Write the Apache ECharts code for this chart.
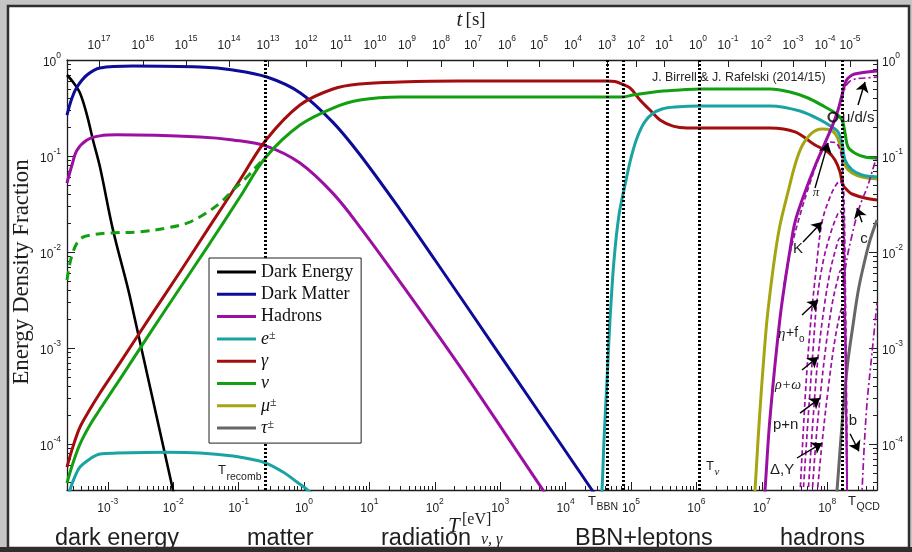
<!DOCTYPE html>
<html>
<head>
<meta charset="utf-8">
<title>Energy density fractions of the Universe</title>
<script src="https://cdn.jsdelivr.net/npm/echarts@6.0.0/dist/echarts.min.js"></script>
<style>
  html, body { margin: 0; padding: 0; background: #c5c5c5; }
  #chart { width: 912px; height: 552px; }
</style>
</head>
<body>
<div id="chart"></div>
<script>
// Energy density fraction of each component versus photon/neutrino temperature T [eV].

const tempRange = [2.38e-4, 5.77e8];
const fractionRange = [3.32e-5, 1];

const tempTicks = [1e-3, 1e-2, 1e-1, 1, 10, 100, 1e3, 1e4, 1e5, 1e6, 1e7, 1e8];
const fractionTicks = [1e-4, 1e-3, 1e-2, 1e-1, 1];

// cosmic time t [s]: exponent of each top tick and the temperature it sits at
const timeExponents = [17, 16, 15, 14, 13, 12, 11, 10, 9, 8, 7, 6, 5, 4, 3, 2, 1, 0, -1, -2, -3, -4, -5];
const timeAtTemp = [7.33e-4, 3.45e-3, 0.0157, 0.0713, 0.2815, 1.073, 3.68, 12.18, 37.6, 124.4, 383.7,
  1271, 3920, 1.298e4, 4.296e4, 1.193e5, 3.196e5, 1.058e6, 3.042e6, 9.72e6, 3.0e7, 9.26e7, 2.232e8];

// characteristic temperatures (dotted guides)
const tRecomb = 0.262;
const tBBN = [4.3e4, 7.5e4];
const tNuFreeze = 1.1e6;
const tQCD = 1.68e8;

const darkEnergy = [[2.377e-4,0.698],[2.937e-4,0.590],[3.757e-4,0.453],[4.808e-4,0.267],[5.937e-4,0.147],
  [7.6e-4,0.0768],[1.201e-3,0.017],[2.184e-3,3.4e-3],[9.93e-3,3.32e-5],[0.0127,1.9e-5]];

const darkMatter = [[2.377e-4,0.267],[2.836e-4,0.402],[3.382e-4,0.523],[4.808e-4,0.698],[7.6e-4,0.826],
  [2.428e-3,0.866],[0.02569,0.845],[0.0821,0.787],[0.2718,0.665],[0.8686,0.457],[2.776,0.224],[7.183,0.103],
  [29.38,0.0277],[100.7,8.26e-3],[993,8.45e-4],[2.533e4,3.32e-5],[3.357e4,2.5e-5]];

const baryons = [[2.377e-4,0.0523],[2.836e-4,0.0806],[3.382e-4,0.115],[4.808e-4,0.147],[7.6e-4,0.162],
  [1.382e-3,0.166],[0.02569,0.158],[0.0821,0.147],[0.2718,0.126],[0.8686,0.0845],[2.776,0.0408],[7.183,0.0182],
  [29.38,4.9e-3],[242.8,6.4e-4],[4512,3.32e-5],[5774,2.62e-5]];

const electronsLate = [[2.462e-4,2.62e-5],[2.642e-4,3.32e-5],[3.151e-4,4.6e-5],[3.757e-4,5.76e-5],[5.342e-4,7.0e-5],
  [7.6e-4,7.87e-5],[1.382e-3,8.05e-5],[8.04e-3,8.2e-5],[0.02569,8.05e-5],[0.0821,7.5e-5],[0.1494,6.98e-5],
  [0.2624,6.34e-5],[0.4775,5.11e-5],[0.7816,4.02e-5],[1.235,3.16e-5],[1.5,2.6e-5]];

const electronsEarly = [[3.477e4,2.94e-5],[3.602e4,3.32e-5],[3.866e4,1.1e-4],[4.296e4,4.64e-4],[4.775e4,1.96e-3],
  [5.497e4,8.25e-3],[6.553e4,0.0243],[8.1e4,0.0499],[1.0e5,0.0954],[1.235e5,0.154],[1.58e5,0.221],[2.095e5,0.274],
  [2.979e5,0.309],[4.708e5,0.324],[1.135e6,0.332],[1.334e7,0.332],[3.838e7,0.294],[8.33e7,0.232],[1.184e8,0.200],
  [1.463e8,0.178],[1.684e8,0.137],[1.872e8,0.0908],[2.395e8,0.0715],[3.405e8,0.0634],[5.771e8,0.0604]];

const photons = [[2.377e-4,5.76e-5],[2.937e-4,9.4e-5],[3.757e-4,1.5e-4],[5.342e-4,2.3e-4],[7.6e-4,3.4e-4],
  [1.536e-3,7.0e-4],[4.418e-3,2.1e-3],[0.0127,6.19e-3],[0.0365,0.0187],[0.105,0.0562],[0.2624,0.147],
  [0.8686,0.340],[2.776,0.499],[7.183,0.562],[29.38,0.590],[242.8,0.604],[4.296e4,0.604],[5.694e4,0.597],
  [7.285e4,0.562],[9.65e4,0.511],[1.373e5,0.383],[1.952e5,0.301],[2.776e5,0.237],[4.387e5,0.205],[7.183e5,0.196],
  [1.334e7,0.196],[3.219e7,0.178],[6.51e7,0.130],[1.029e8,0.110],[1.316e8,0.0908],[1.57e8,0.0681],
  [1.745e8,0.0499],[2.081e8,0.0432],[2.395e8,0.0402],[3.784e8,0.0365],[5.771e8,0.0348]];

const neutrinos = [[2.377e-4,3.93e-5],[2.937e-4,6.34e-5],[3.757e-4,1.0e-4],[5.342e-4,1.58e-4],[7.6e-4,2.3e-4],
  [1.536e-3,4.75e-4],[4.418e-3,1.43e-3],[0.0127,4.22e-3],[0.0365,0.0124],[0.105,0.0374],[0.2624,0.0977],
  [0.8686,0.210],[2.776,0.316],[7.183,0.383],[29.38,0.412],[242.8,0.412],[7.546e4,0.412],[1.073e5,0.432],
  [1.756e5,0.453],[3.086e5,0.475],[5.613e5,0.487],[1.135e6,0.499],[1.334e7,0.499],[2.7e7,0.464],[5.087e7,0.402],
  [9.26e7,0.324],[1.316e8,0.281],[1.684e8,0.237],[1.872e8,0.174],[2.081e8,0.124],[2.662e8,0.107],
  [3.784e8,0.0977],[5.771e8,0.0954]];

// massive-neutrino case
const neutrinosMassive = [[2.377e-4,5.11e-3],[2.642e-4,7.68e-3],[2.937e-4,0.0100],[3.382e-4,0.0124],[4.175e-4,0.0143],
  [5.342e-4,0.0150],[1.08e-3,0.0158],[3.108e-3,0.0162],[8.04e-3,0.0178],[0.01626,0.0200],[0.02855,0.0243],
  [0.05194,0.0324],[0.0821,0.0442],[0.1344,0.0604],[0.1911,0.0787],[0.2624,0.0977]];

const muons = [[7.6e6,2.62e-5],[7.87e6,3.32e-5],[8.75e6,1.1e-4],[9.73e6,3.24e-4],[1.081e7,8.46e-4],[1.2e7,1.96e-3],
  [1.383e7,4.53e-3],[1.592e7,9.33e-3],[1.898e7,0.0191],[2.517e7,0.0422],[3.219e7,0.0806],[4.118e7,0.127],
  [5.856e7,0.174],[8.33e7,0.191],[1.104e8,0.187],[1.364e8,0.166],[1.57e8,0.130],[1.745e8,0.0954],
  [1.939e8,0.0768],[2.395e8,0.0665],[3.405e8,0.0604],[5.771e8,0.0576]];

const taus = [[1.364e8,2.62e-5],[1.413e8,3.32e-5],[1.57e8,8.66e-5],[1.807e8,2.87e-4],[2.081e8,7.5e-4],
  [2.481e8,1.74e-3],[2.958e8,3.83e-3],[3.527e8,6.81e-3],[4.512e8,0.0133],[5.771e8,0.0215]];

const hadronsEarly = [[1.081e7,2.62e-5],[1.12e7,3.32e-5],[1.289e7,1.4e-4],[1.483e7,4.12e-4],[1.708e7,1.07e-3],
  [1.966e7,2.49e-3],[2.346e7,5.76e-3],[2.7e7,0.0105],[3.219e7,0.0205],[4.578e7,0.0422],[6.51e7,0.0787],
  [9.26e7,0.137],[1.227e8,0.215],[1.463e8,0.301],[1.684e8,0.432],[1.939e8,0.604],[2.395e8,0.698],
  [3.174e8,0.732],[5.771e8,0.768]];

// individual hadron species below the QCD transition
const pions = [[2.184e7,4.53e-3],[2.7e7,9.77e-3],[3.838e7,0.0243],[5.458e7,0.0523],[7.238e7,0.0908],[8.94e7,0.121],
  [1.104e8,0.140],[1.364e8,0.137],[1.57e8,0.115],[1.684e8,0.0866],[1.807e8,0.0348],[1.872e8,8.25e-3],
  [1.939e8,9.5e-4],[2.009e8,2.62e-5]];
const kaons = [[3.838e7,2.94e-5],[4.578e7,2.87e-4],[5.458e7,1.54e-3],[6.744e7,6.49e-3],[8.33e7,0.0205],
  [1.104e8,0.0374],[1.364e8,0.0499],[1.57e8,0.0549],[1.684e8,0.0487],[1.807e8,0.017],[1.872e8,3.16e-3],
  [1.939e8,2.87e-4],[2.009e8,2.62e-5]];
const etaF0 = [[4.267e7,2.94e-5],[5.087e7,1.8e-4],[6.067e7,9.5e-4],[6.986e7,3.16e-3],[8.63e7,7.87e-3],
  [1.104e8,0.015],[1.364e8,0.0226],[1.57e8,0.0267],[1.684e8,0.0249],[1.807e8,0.0105],[1.872e8,1.96e-3],
  [2.009e8,2.62e-5]];
const rhoOmega = [[5.087e7,2.94e-5],[6.067e7,1.8e-4],[7.238e7,8.05e-4],[8.94e7,2.61e-3],[1.104e8,6.19e-3],
  [1.364e8,0.011],[1.57e8,0.014],[1.684e8,0.0133],[1.807e8,5.76e-3],[1.939e8,7.5e-4],[2.009e8,2.62e-5]];
const nucleons = [[5.856e7,2.94e-5],[6.744e7,1.1e-4],[7.766e7,3.01e-4],[9.59e7,1.07e-3],[1.184e8,2.81e-3],
  [1.413e8,4.87e-3],[1.626e8,6.49e-3],[1.745e8,5.9e-3],[1.872e8,2.49e-3],[1.939e8,4.64e-4],[2.009e8,2.62e-5]];
const deltaHyperons = [[6.986e7,2.94e-5],[8.33e7,1.02e-4],[1.029e8,3.65e-4],[1.271e8,1.07e-3],[1.515e8,2.05e-3],
  [1.684e8,2.61e-3],[1.807e8,1.96e-3],[1.939e8,3.65e-4],[2.009e8,2.62e-5]];

// quarks above the QCD transition
const lightQuarks = [[1.684e8,0.383],[1.872e8,0.511],[2.153e8,0.590],[2.662e8,0.634],[3.784e8,0.649],[5.771e8,0.665]];
const charmQuarks = [[1.745e8,4.53e-3],[2.009e8,8.66e-3],[2.395e8,0.015],[2.856e8,0.0243],[3.405e8,0.0348],
  [4.06e8,0.0464],[4.841e8,0.0681],[5.771e8,0.102]];
const bottomQuarks = [[3.288e8,2.62e-5],[3.405e8,3.32e-5],[3.654e8,8.66e-5],[4.06e8,2.67e-4],[4.841e8,8.87e-4],
  [5.771e8,2.95e-3]];

// crossover point marked with a ring
const crossoverPoint = [[1.227e8, 0.255]];

// pointer arrows: [tail, tip]
const pointerArrows = [
  [[6.51e7, 0.0464], [1.029e8, 0.137]],    // pi
  [[4.267e7, 0.0127], [8.33e7, 0.0205]],   // K
  [[4.118e7, 2.21e-3], [7.238e7, 3.16e-3]],// eta+f0
  [[4.118e7, 5.9e-4], [7.238e7, 8.05e-4]], // rho+omega
  [[3.838e7, 2.1e-4], [7.766e7, 3.01e-4]], // p+n
  [[3.452e7, 7.15e-5], [8.33e7, 1.02e-4]], // Delta, Y
  [[2.958e8, 0.34], [3.784e8, 0.59]],      // u/d/s
  [[3.405e8, 0.0204], [2.856e8, 0.0288]],  // c
  [[2.233e8, 1.28e-4], [3.06e8, 8.4e-5]]   // b
];

const legendNames = ['Dark Energy', 'Dark Matter', 'Hadrons', 'e±', 'γ', 'ν', 'μ±', 'τ±'];
const legendText = {
  'Dark Energy': 'Dark Energy', 'Dark Matter': 'Dark Matter', 'Hadrons': 'Hadrons',
  'e±': '{m|e}{p|±}', 'γ': '{m|γ}', 'ν': '{m|ν}', 'μ±': '{m|μ}{p|±}', 'τ±': '{m|τ}{p|±}'
};

const COLORS = {
  de: '#000000', dm: '#0c0c98', had: '#9c0fa3', e: '#19a3a3',
  gamma: '#a30d0d', nu: '#12a012', mu: '#a5a512', tau: '#676767'
};

const SERIF = '"Liberation Serif", "Times New Roman", serif';
const SANS = '"Liberation Sans", Arial, sans-serif';
const INK = '#1e1e1e';

function minorTicks(lo, hi) {
  const out = [];
  for (let d = -6; d <= 9; d++) {
    for (let k = 2; k <= 9; k++) {
      const v = k * Math.pow(10, d);
      if (v > lo && v < hi) out.push(v);
    }
  }
  return out;
}

const powerRich = {
  b: { fontFamily: SANS, fontSize: 12, color: INK, lineHeight: 18, verticalAlign: 'bottom' },
  s: { fontFamily: SANS, fontSize: 8.5, color: INK, lineHeight: 9, verticalAlign: 'top' }
};
const powerLabel = v => '{b|10}{s|' + Math.round(Math.log10(v)) + '}';
const timeLabel = v => {
  let best = 0, bd = Infinity;
  timeAtTemp.forEach((t, i) => {
    const d = Math.abs(Math.log10(t) - Math.log10(v));
    if (d < bd) { bd = d; best = i; }
  });
  return '{b|10}{s|' + timeExponents[best] + '}';
};

const frame = { show: true, onZero: false, lineStyle: { color: INK, width: 1.3 } };
const tickStyle = { color: INK, width: 1 };

function logAxis(range, position, opts) {
  return Object.assign({
    type: 'log', logBase: 10, min: range[0], max: range[1], position: position,
    axisLine: { show: false }, splitLine: { show: false }, minorTick: { show: false },
    axisLabel: { show: false }, axisTick: { show: false }
  }, opts);
}

function majorAxis(range, position, ticks, formatter, margin) {
  return logAxis(range, position, {
    axisLine: frame,
    axisTick: { show: true, inside: true, length: 8, customValues: ticks, lineStyle: tickStyle },
    axisLabel: { show: true, customValues: ticks, formatter: formatter, rich: powerRich, margin: margin }
  });
}
function minorAxis(range, position) {
  return logAxis(range, position, {
    axisTick: { show: true, inside: true, length: 4, customValues: minorTicks(range[0], range[1]), lineStyle: tickStyle }
  });
}

function curve(name, data, color, extra) {
  const s = {
    type: 'line', name: name, data: data, xAxisIndex: 0, yAxisIndex: 0,
    symbol: 'none', showSymbol: false, smooth: 0.35, silent: true, animation: false, clip: true,
    lineStyle: { color: color, width: 3 }, itemStyle: { color: color }, z: 3
  };
  if (extra) {
    if (extra.lineStyle) Object.assign(s.lineStyle, extra.lineStyle);
    if (extra.z) s.z = extra.z;
  }
  return s;
}
const dashed = { lineStyle: { width: 1.7, type: [5, 3] } };
const dashDot = { lineStyle: { width: 1.7, type: [7, 3, 2, 3] } };

const series = [
  curve('Dark Energy', darkEnergy, COLORS.de, { lineStyle: { width: 2.6 } }),
  curve('Dark Matter', darkMatter, COLORS.dm),
  curve('Hadrons', baryons, COLORS.had),
  curve('e±', electronsLate, COLORS.e),
  curve('γ', photons, COLORS.gamma),
  curve('ν', neutrinos, COLORS.nu),
  curve('μ±', muons, COLORS.mu),
  curve('τ±', taus, COLORS.tau),
  curve('ν', neutrinosMassive, COLORS.nu, { lineStyle: { type: [9, 6] } }),
  curve('e±', electronsEarly, COLORS.e),
  curve('Hadrons', hadronsEarly, COLORS.had),
  curve('π', pions, COLORS.had, dashed),
  curve('K', kaons, COLORS.had, dashed),
  curve('η+f0', etaF0, COLORS.had, dashed),
  curve('ρ+ω', rhoOmega, COLORS.had, dashed),
  curve('p+n', nucleons, COLORS.had, dashed),
  curve('Δ,Y', deltaHyperons, COLORS.had, dashed),
  curve('u/d/s', lightQuarks, COLORS.had, dashDot),
  curve('c', charmQuarks, COLORS.had, dashDot),
  curve('b', bottomQuarks, COLORS.had, dashDot),
  {
    type: 'line', name: 'guides', data: [], xAxisIndex: 0, yAxisIndex: 0, silent: true, animation: false, z: 5,
    markLine: {
      silent: true, animation: false, symbol: 'none', label: { show: false },
      emphasis: { disabled: true },
      lineStyle: { color: '#000', width: 3, type: [2, 2] },
      data: [tRecomb, tBBN[0], tBBN[1], tNuFreeze, tQCD].map(t => ({ xAxis: t }))
    }
  },
  {
    type: 'scatter', name: 'crossover', data: crossoverPoint, xAxisIndex: 0, yAxisIndex: 0,
    symbol: 'circle', symbolSize: 9, silent: true, animation: false, z: 6,
    itemStyle: { color: 'rgba(0,0,0,0)', borderColor: '#000', borderWidth: 2.2 },
    markLine: {
      silent: true, animation: false, symbol: ['none', 'arrow'], symbolSize: 10,
      label: { show: false }, emphasis: { disabled: true },
      itemStyle: { color: '#000', borderWidth: 0 },
      lineStyle: { color: '#000', width: 1.4, type: 'solid' },
      data: pointerArrows.map(p => [{ coord: p[0] }, { coord: p[1] }])
    }
  }
];

function text(x, y, str, font, opts) {
  return Object.assign({
    type: 'text', x: x, y: y, z: 50, silent: true,
    style: Object.assign({ text: str, font: font, fill: INK, align: 'left', verticalAlign: 'middle' }, (opts && opts.style) || {})
  }, opts && opts.el || {});
}
// symbol with subscript, drawn as two pieces
function subscripted(x, y, main, sub, mainFont, subFont, subDx, subDy) {
  return [text(x, y, main, mainFont), text(x + subDx, y + subDy, sub, subFont)];
}

const graphics = [
  // white panel
  { type: 'rect', z: -100, silent: true, shape: { x: 8, y: 6, width: 901, height: 542 },
    style: { fill: '#ffffff', stroke: '#2e2e2e', lineWidth: 2.5 } },
  // cosmic time axis title
  text(471, 20, '{i|t} {n|[s]}', null, { style: { align: 'center', rich: {
    i: { fontFamily: SERIF, fontStyle: 'italic', fontSize: 21, fill: INK },
    n: { fontFamily: SERIF, fontSize: 19, fill: INK } } } }),
  // y axis title
  text(22, 272, 'Energy Density Fraction', '23px ' + SERIF, { style: { align: 'center' }, el: { rotation: Math.PI / 2 } }),
  // x axis title
  text(448, 526, 'T', 'italic 21px ' + SERIF),
  text(462, 520, '[eV]', '16px ' + SERIF),
  text(481, 540, 'ν, γ', 'italic 16px ' + SERIF),
  // eras
  text(55, 539, 'dark energy', '23.5px ' + SANS),
  text(247, 539, 'matter', '23.5px ' + SANS),
  text(381, 539, 'radiation', '23.5px ' + SANS),
  text(575, 539, 'BBN+leptons', '23.5px ' + SANS),
  text(780, 539, 'hadrons', '23.5px ' + SANS),
  // credit
  text(652, 78, 'J. Birrell & J. Rafelski (2014/15)', '12.4px ' + SANS, { style: { fill: '#262626' } }),
  // species labels
  text(816, 193, 'π', 'italic 13px ' + SERIF, { style: { align: 'center' } }),
  text(798, 249, 'K', '15px ' + SANS, { style: { align: 'center' } }),
  text(778, 334, 'η', 'italic 15px ' + SERIF),
  text(786, 333, '+f', '14px ' + SANS),
  text(799, 339, 'o', '10px ' + SANS),
  text(775, 385, 'ρ+ω', 'italic 14px ' + SERIF),
  text(773, 425, 'p+n', '15px ' + SANS),
  text(770, 470, 'Δ,Y', '15px ' + SANS),
  text(842, 118, 'u/d/s', '15px ' + SANS),
  text(864, 239, 'c', '15px ' + SANS, { style: { align: 'center' } }),
  text(853, 421, 'b', '15px ' + SANS, { style: { align: 'center' } })
].concat(
  subscripted(218, 470, 'T', 'recomb', '13px ' + SANS, '10.5px ' + SANS, 8.5, 7),
  subscripted(706, 466, 'T', 'ν', '13px ' + SANS, 'italic 11px ' + SERIF, 8.5, 6),
  subscripted(588, 501, 'T', 'BBN', '13px ' + SANS, '10.5px ' + SANS, 8.5, 6),
  subscripted(848, 501, 'T', 'QCD', '13px ' + SANS, '10.5px ' + SANS, 8.5, 6),
  [
    // frame strip along the bottom edge
    { type: 'rect', z: 200, silent: true, shape: { x: 0, y: 547, width: 912, height: 5 }, style: { fill: '#2e2e2e' } }
  ]
);

const chart = echarts.init(document.getElementById('chart'), null, { renderer: 'canvas' });
chart.setOption({
  backgroundColor: 'transparent',
  animation: false,
  textStyle: { fontFamily: SANS },
  grid: { left: 67, right: 35, top: 60, bottom: 62, containLabel: false },
  xAxis: [
    majorAxis(tempRange, 'bottom', tempTicks, powerLabel, 7),
    minorAxis(tempRange, 'bottom'),
    logAxis(tempRange, 'top', {
      axisLine: frame,
      axisTick: { show: true, inside: true, length: 7, customValues: timeAtTemp, lineStyle: tickStyle },
      axisLabel: { show: true, customValues: timeAtTemp, formatter: timeLabel, rich: powerRich, margin: 8 }
    })
  ],
  yAxis: [
    majorAxis(fractionRange, 'left', fractionTicks, powerLabel, 6),
    minorAxis(fractionRange, 'left'),
    majorAxis(fractionRange, 'right', fractionTicks, powerLabel, 5),
    minorAxis(fractionRange, 'right')
  ],
  legend: {
    data: legendNames, orient: 'vertical', left: 209, top: 258, z: 10,
    backgroundColor: '#ffffff', borderColor: '#222', borderWidth: 1, borderRadius: 0,
    padding: [5, 8, 6, 8], itemGap: 4.3, itemWidth: 39, itemHeight: 3, icon: 'rect',
    selectedMode: false,
    formatter: name => legendText[name],
    textStyle: {
      fontFamily: SERIF, fontSize: 18, color: '#111', lineHeight: 18,
      rich: {
        m: { fontFamily: SERIF, fontStyle: 'italic', fontSize: 18, lineHeight: 18, color: '#111' },
        p: { fontFamily: SERIF, fontSize: 12, lineHeight: 11, verticalAlign: 'top', color: '#111' }
      }
    }
  },
  graphic: { elements: graphics },
  series: series
});
</script>
</body>
</html>
